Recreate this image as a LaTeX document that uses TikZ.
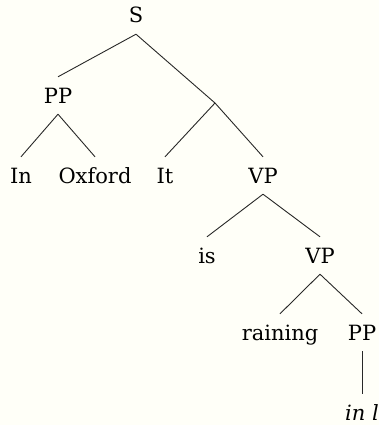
\documentclass[tikz,border=0pt]{standalone}
\usepackage{fontspec}
\setmainfont{DejaVu Serif}
\definecolor{bgcream}{RGB}{255,255,248}
\definecolor{linegray}{RGB}{40,40,40}
\begin{document}
\begin{tikzpicture}[x=1pt,y=-1pt,
  lab/.style={anchor=base,font=\fontsize{21}{24}\selectfont,text height=15pt,text depth=0pt,inner xsep=0pt,inner ysep=11pt},
  edge/.style={draw=linegray,line width=0.9pt}]
\fill[bgcream] (0,0) rectangle (379,425);
\useasboundingbox (0,0) rectangle (379,425);
\node[lab] (S) at (136,23) {S};
\node[lab] (PPa) at (58,103) {PP};
\coordinate (br) at (215,103);
\node[lab] (In) at (21,183) {In};
\node[lab] (Ox) at (95,183) {Oxford};
\node[lab] (It) at (165,183) {It};
\node[lab] (VPa) at (263,183) {VP};
\node[lab] (is) at (207,263) {is};
\node[lab] (VPb) at (320,263) {VP};
\node[lab] (rain) at (280,340) {raining};
\node[lab] (PPb) at (362,340) {PP};
\node[lab] (inl) at (362,420) {\textit{in l}};
\draw[edge] (S.south) -- (PPa.north);
\draw[edge] (S.south) -- (br);
\draw[edge] (PPa.south) -- (In.north);
\draw[edge] (PPa.south) -- (Ox.north);
\draw[edge] (br) -- (It.north);
\draw[edge] (br) -- (VPa.north);
\draw[edge] (VPa.south) -- (is.north);
\draw[edge] (VPa.south) -- (VPb.north);
\draw[edge] (VPb.south) -- (rain.north);
\draw[edge] (VPb.south) -- (PPb.north);
\draw[edge] (PPb.south) -- (inl.north);
\end{tikzpicture}
\end{document}
